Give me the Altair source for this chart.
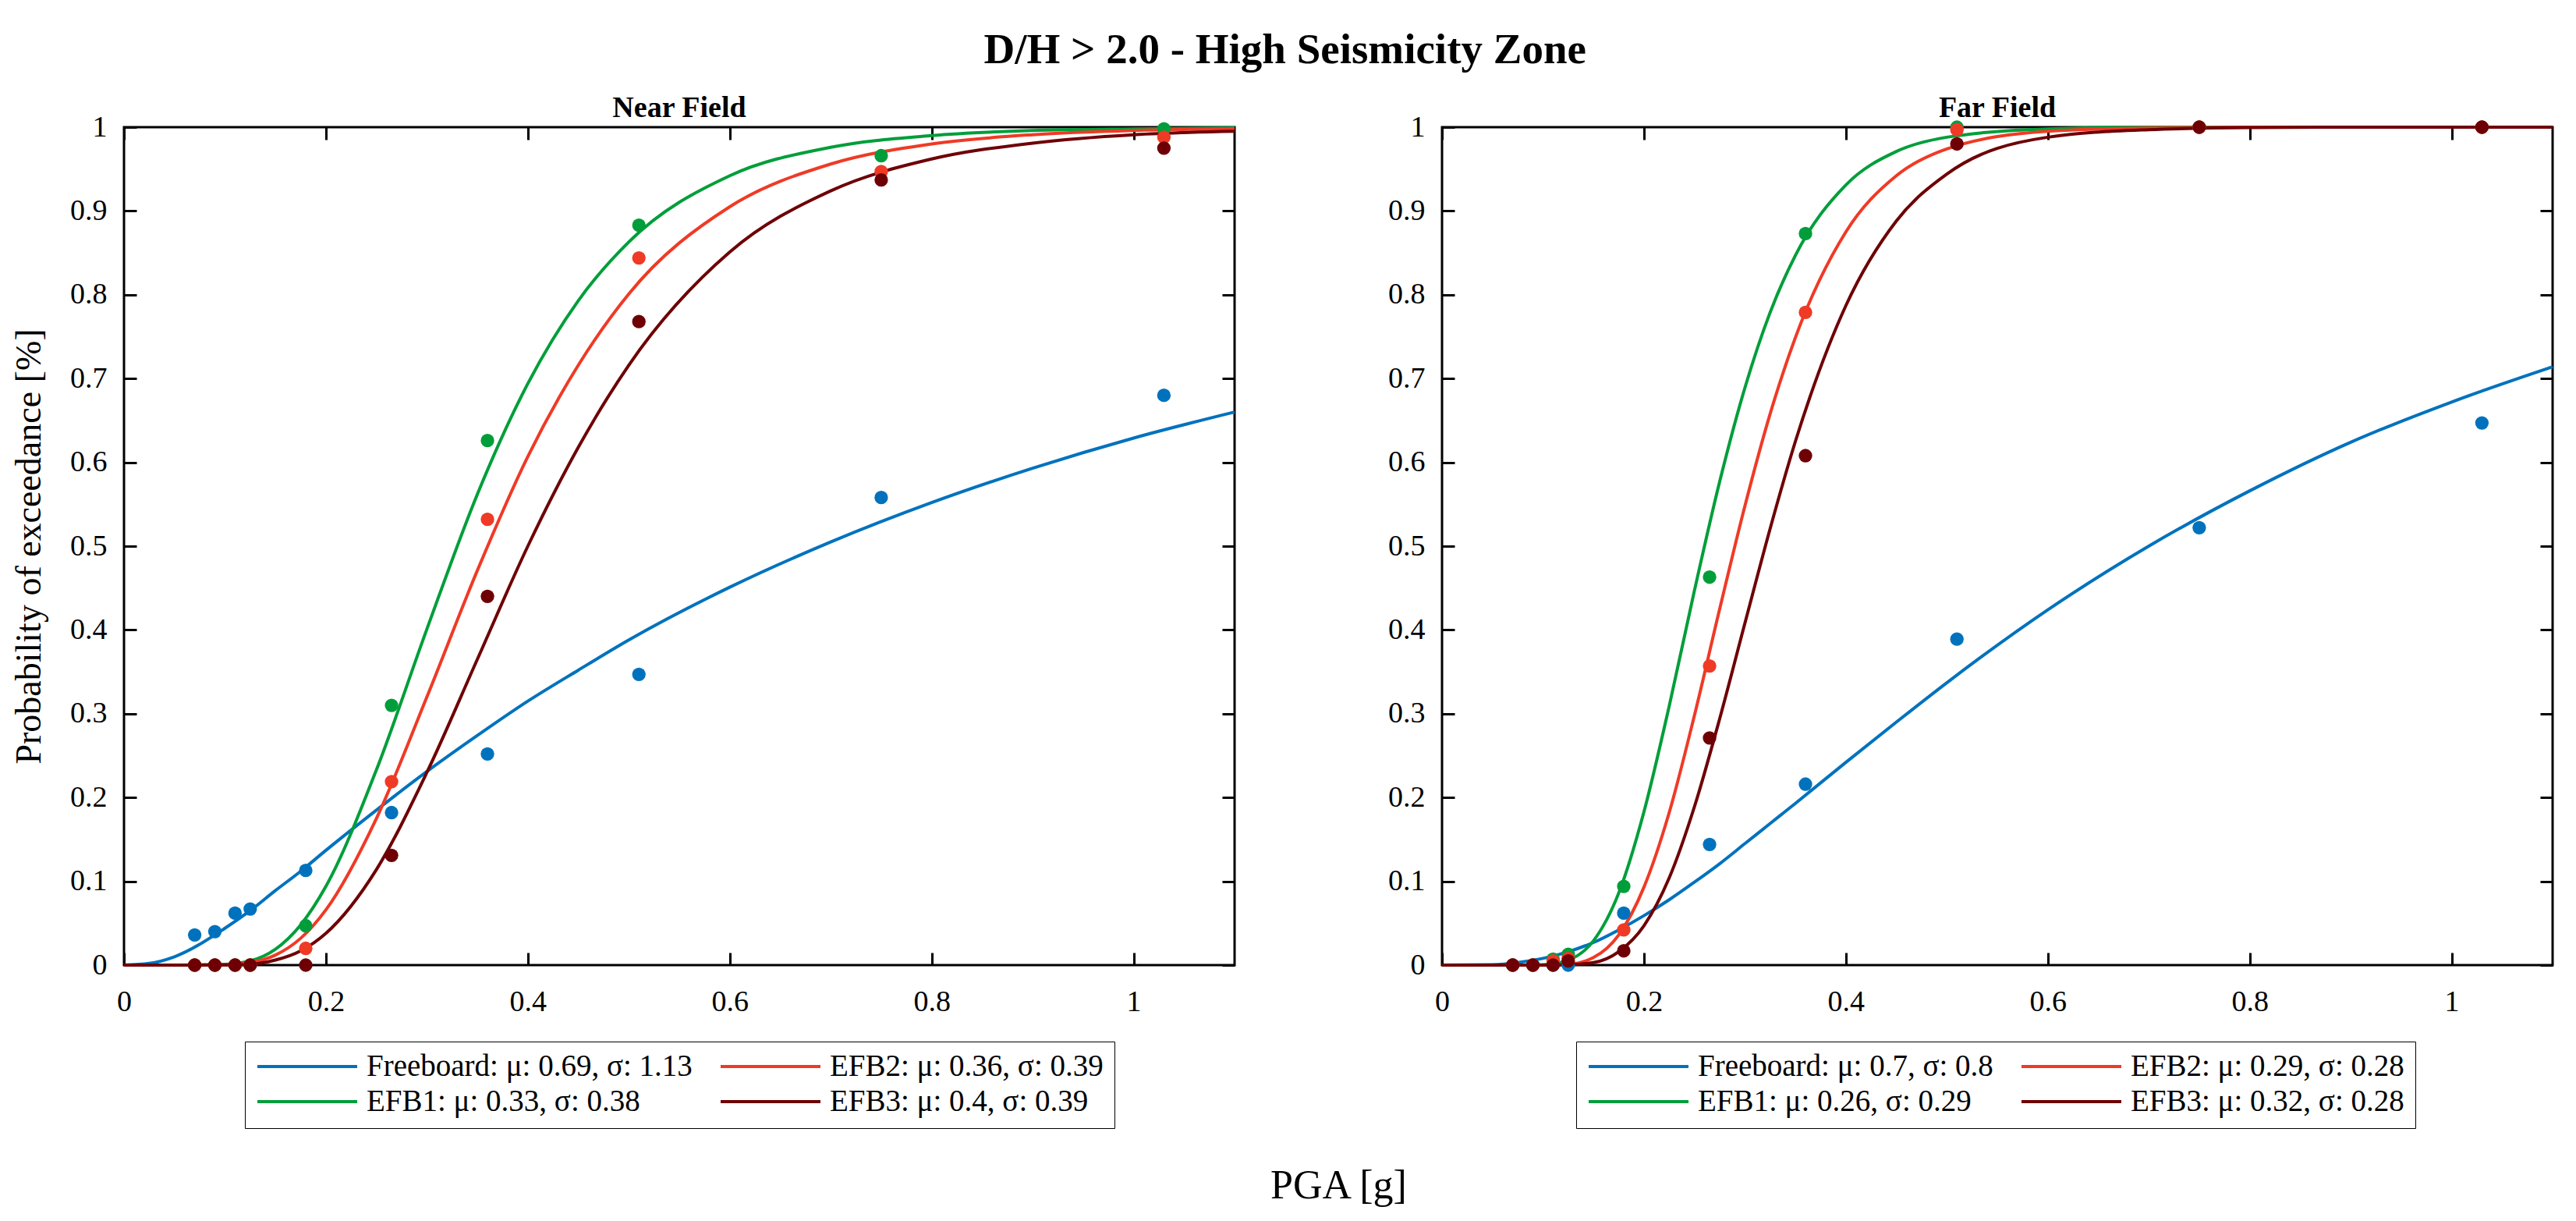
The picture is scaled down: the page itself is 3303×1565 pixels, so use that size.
import altair as alt
import pandas as pd

FONT = "Liberation Serif"

# colours of the four series (Freeboard, EFB1, EFB2, EFB3)
COLORS = ["#0072BD", "#009E3A", "#EF3A26", "#6E0005"]

# measured points (PGA [g])
pga = [0.07, 0.09, 0.11, 0.125, 0.18, 0.265, 0.36, 0.51, 0.75, 1.03]

near_fb = [0.036, 0.040, 0.062, 0.067, 0.113, 0.182, 0.252, 0.347, 0.558, 0.680]
near_e1 = [0, 0, 0, 0, 0.047, 0.310, 0.626, 0.883, 0.966, 0.998]
near_e2 = [0, 0, 0, 0, 0.020, 0.219, 0.532, 0.844, 0.947, 0.988]
near_e3 = [0, 0, 0, 0, 0, 0.131, 0.440, 0.768, 0.937, 0.975]

far_fb = [0, 0, 0, 0, 0.062, 0.144, 0.216, 0.389, 0.522, 0.647]
far_e1 = [0, 0, 0.007, 0.013, 0.094, 0.463, 0.873, 1.0, 1.0, 1.0]
far_e2 = [0, 0, 0.005, 0.008, 0.042, 0.357, 0.779, 0.997, 1.0, 1.0]
far_e3 = [0, 0, 0, 0.005, 0.017, 0.271, 0.608, 0.980, 1.0, 1.0]

# fitted curves
near_x = [0, 0.025, 0.05, 0.1, 0.125, 0.15, 0.175, 0.2, 0.25, 0.3, 0.35,
          0.4, 0.45, 0.5, 0.6, 0.7, 0.8, 0.9, 1.0, 1.1]
near_fb_fit = [0, 0.002, 0.010, 0.044, 0.065, 0.089, 0.112, 0.137, 0.185, 0.231, 0.274,
               0.315, 0.352, 0.388, 0.451, 0.505, 0.552, 0.593, 0.629, 0.660]
near_e1_fit = [0, 0, 0, 0.001, 0.005, 0.019, 0.048, 0.094, 0.233, 0.401, 0.562,
               0.694, 0.793, 0.863, 0.942, 0.976, 0.990, 0.996, 0.998, 0.999]
near_e2_fit = [0, 0, 0, 0.0005, 0.003, 0.012, 0.032, 0.066, 0.175, 0.320, 0.471,
               0.607, 0.716, 0.801, 0.905, 0.956, 0.980, 0.991, 0.996, 0.998]
near_e3_fit = [0, 0, 0, 0.0002, 0.001, 0.006, 0.017, 0.038, 0.114, 0.230, 0.365,
               0.500, 0.618, 0.716, 0.851, 0.924, 0.962, 0.981, 0.991, 0.995]

far_x = [0, 0.05, 0.075, 0.1, 0.125, 0.15, 0.175, 0.2, 0.225, 0.25, 0.275, 0.3,
         0.325, 0.35, 0.4, 0.45, 0.5, 0.6, 0.7, 0.8, 0.9, 1.0, 1.1]
far_fb_fit = [0, 0.0005, 0.003, 0.008, 0.016, 0.027, 0.042, 0.059, 0.078, 0.099, 0.121, 0.145,
              0.169, 0.193, 0.242, 0.290, 0.337, 0.424, 0.500, 0.566, 0.624, 0.672, 0.714]
far_e1_fit = [0, 0, 0, 0.0005, 0.006, 0.029, 0.086, 0.183, 0.309, 0.447, 0.577, 0.689,
              0.779, 0.847, 0.931, 0.971, 0.988, 0.998, 1.0, 1.0, 1.0, 1.0, 1.0]
far_e2_fit = [0, 0, 0, 0.0001, 0.001, 0.009, 0.036, 0.093, 0.182, 0.298, 0.425, 0.548,
              0.658, 0.749, 0.875, 0.942, 0.974, 0.995, 0.999, 1.0, 1.0, 1.0, 1.0]
far_e3_fit = [0, 0, 0, 0, 0.0004, 0.003, 0.016, 0.047, 0.104, 0.189, 0.294, 0.408,
              0.521, 0.625, 0.787, 0.888, 0.944, 0.988, 0.997, 0.9995, 1.0, 1.0, 1.0]

near_labels = ["Freeboard: μ: 0.69, σ: 1.13", "EFB1: μ: 0.33, σ: 0.38",
               "EFB2: μ: 0.36, σ: 0.39", "EFB3: μ: 0.4, σ: 0.39"]
far_labels = ["Freeboard: μ: 0.7, σ: 0.8", "EFB1: μ: 0.26, σ: 0.29",
              "EFB2: μ: 0.29, σ: 0.28", "EFB3: μ: 0.32, σ: 0.28"]

x_ticks = [0, 0.2, 0.4, 0.6, 0.8, 1.0]
y_ticks = [0, 0.1, 0.2, 0.3, 0.4, 0.5, 0.6, 0.7, 0.8, 0.9, 1.0]

W, H = 1424, 1074
TICK = 16


def long_df(xs, series, labels):
    rows = []
    for lab, vals in zip(labels, series):
        for x, p in zip(xs, vals):
            rows.append({"x": x, "p": p, "series": lab})
    return pd.DataFrame(rows)


def panel(title, labels, curves, points, legend_x, ylabel, xlabel):
    legend = alt.Legend(orient="none", legendX=legend_x, legendY=1172, columns=2,
                        title=None, symbolType="stroke", symbolSize=16384,
                        symbolStrokeWidth=4, clipHeight=36, labelFont=FONT,
                        labelFontSize=39, labelLimit=0, labelOffset=10,
                        columnPadding=34, rowPadding=6, padding=14,
                        strokeColor="black", fillColor="white")
    color = alt.Color("series:N", scale=alt.Scale(domain=labels, range=COLORS), legend=legend)
    xs = alt.Scale(domain=[0, 1.1], nice=False)
    ys = alt.Scale(domain=[0, 1], nice=False)

    if xlabel:
        # shared x label, centred under both panels (hung off the right panel's axis)
        x_bottom = alt.Axis(values=x_ticks, format="~g", offset=-TICK, tickSize=TICK,
                            domain=False, grid=False, labelPadding=28, labelFlush=False,
                            title=xlabel, titleX=-133, titleY=314, titleAlign="center",
                            titleBaseline="alphabetic", titleFontSize=52)
    else:
        x_bottom = alt.Axis(values=x_ticks, format="~g", offset=-TICK, tickSize=TICK,
                            domain=False, grid=False, labelPadding=28, title=None,
                            labelFlush=False)
    if ylabel:
        y_left = alt.Axis(values=y_ticks, format="~g", offset=-TICK, tickSize=TICK,
                          domain=False, grid=False, labelPadding=22, labelFlush=False,
                          labelOverlap=False, title=ylabel, titlePadding=28,
                          titleFontSize=46)
    else:
        y_left = alt.Axis(values=y_ticks, format="~g", offset=-TICK, tickSize=TICK,
                          domain=False, grid=False, labelPadding=22, labelFlush=False,
                          labelOverlap=False, title=None)
    x_top = alt.Axis(values=x_ticks, orient="top", labels=False, offset=-TICK,
                     tickSize=TICK, domain=False, grid=False, title=None)
    y_right = alt.Axis(values=y_ticks, orient="right", labels=False, offset=-TICK,
                       tickSize=TICK, domain=False, grid=False, title=None)

    lines = alt.Chart(curves).mark_line(strokeWidth=4, interpolate="monotone").encode(
        x=alt.X("x:Q", scale=xs, axis=x_bottom),
        y=alt.Y("p:Q", scale=ys, axis=y_left),
        color=color,
    )
    dots = alt.Chart(points).mark_circle(size=300, opacity=1).encode(
        x=alt.X("x:Q", scale=xs, axis=x_top),
        y=alt.Y("p:Q", scale=ys, axis=y_right),
        color=color,
    )
    return alt.layer(lines, dots).resolve_axis(x="independent", y="independent").properties(
        width=W, height=H,
        title=alt.TitleParams(title, font=FONT, fontSize=38, fontWeight="bold",
                              baseline="alphabetic", offset=-44, anchor="middle"),
    )


near = panel("Near Field", near_labels,
             long_df(near_x, [near_fb_fit, near_e1_fit, near_e2_fit, near_e3_fit], near_labels),
             long_df(pga, [near_fb, near_e1, near_e2, near_e3], near_labels),
             155, "Probability of exceedance [%]", None)
far = panel("Far Field", far_labels,
            long_df(far_x, [far_fb_fit, far_e1_fit, far_e2_fit, far_e3_fit], far_labels),
            long_df(pga, [far_fb, far_e1, far_e2, far_e3], far_labels),
            172, None, "PGA [g]")

chart = alt.hconcat(near, far, spacing=32).resolve_scale(color="independent").resolve_legend(
    color="independent"
).properties(
    title=alt.TitleParams("D/H > 2.0 - High Seismicity Zone", font=FONT, fontSize=55,
                          fontWeight="bold", baseline="alphabetic", offset=-17, anchor="middle"),
    padding={"top": 28, "left": 5, "right": 5, "bottom": 5},
).configure_view(
    stroke="black", strokeWidth=3
).configure_axis(
    labelFont=FONT, labelFontSize=38, labelColor="black", tickColor="black",
    tickWidth=3, titleFont=FONT, titleFontSize=42, titleFontWeight="normal",
    titleColor="black"
)

chart.save("out.html", embed_options={"renderer": "svg", "actions": False})
